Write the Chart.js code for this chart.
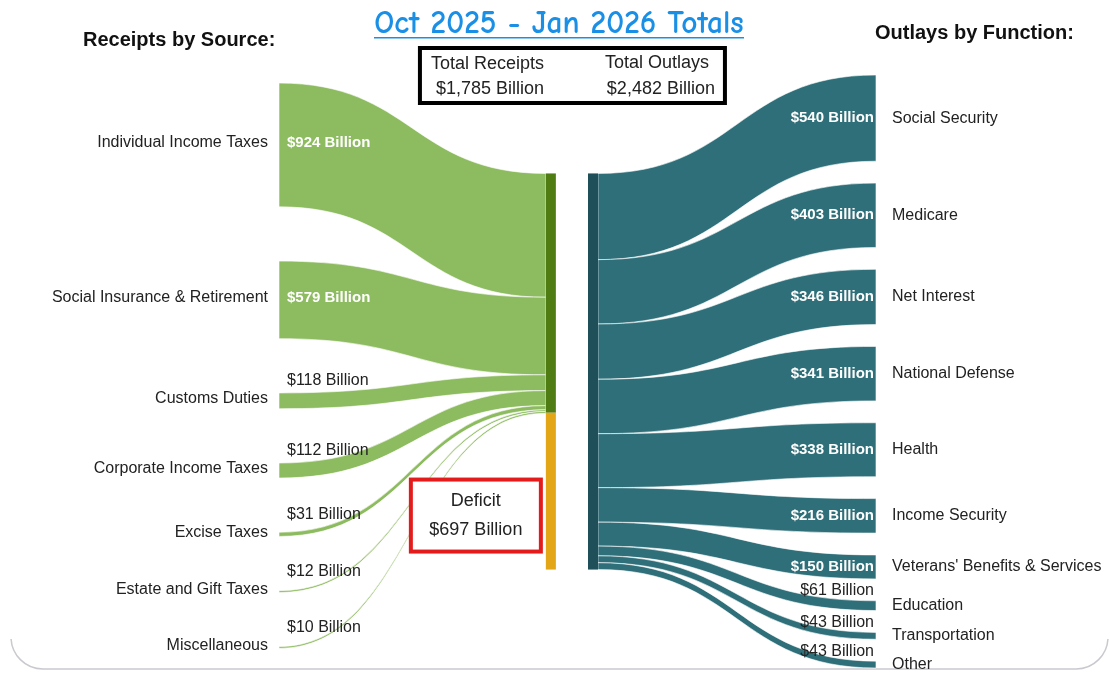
<!DOCTYPE html>
<html>
<head>
<meta charset="utf-8">
<script src="https://cdn.jsdelivr.net/npm/chart.js@4"></script>
<style>
  html, body { margin: 0; padding: 0; background: #fff; }
  canvas { display: block; }
</style>
</head>
<body>
<canvas id="myChart" width="1110" height="673"></canvas>
<script>
// Receipts by source, billions of dollars
var receiptLabels = ['Individual Income Taxes', 'Social Insurance & Retirement', 'Customs Duties',
  'Corporate Income Taxes', 'Excise Taxes', 'Estate and Gift Taxes', 'Miscellaneous'];
var receiptValues = [924, 579, 118, 112, 31, 12, 10];

// Outlays by function, billions of dollars
var outlayLabels = ['Social Security', 'Medicare', 'Net Interest', 'National Defense', 'Health',
  'Income Security', "Veterans' Benefits & Services", 'Education', 'Transportation', 'Other'];
var outlayValues = [540, 403, 346, 341, 338, 216, 150, 61, 43, 43];

// totals as printed on the chart
var totalReceipts = '$1,785 Billion';
var totalOutlays = '$2,482 Billion';
var deficitValue = 697;

var FONT = '"Liberation Sans", Arial, Helvetica, sans-serif';
var GREEN = '#8dbb5f', GREEN_BAR = '#4f7d14', GOLD = '#e3a617';
var TEAL = '#2e6f79', TEAL_BAR = '#1f4f59';
var TEXT = '#222';

// layout, in value units of the y scales
var IN_GAP = 405, IN_PAD = 60, OUT_GAP = 137;
var REC_X = 0.447, OUT_X = 0.5176, NODE_W = 10;

function sum(a) { return a.reduce(function (s, v) { return s + v; }, 0); }
var sumIn = sum(receiptValues);
var sumOut = sum(outlayValues);
var inMax = sumIn + IN_GAP * (receiptValues.length - 1) + 2 * IN_PAD + 90;
var outMax = sumOut + OUT_GAP * (outlayValues.length - 1);

function money(v) { return '$' + v + ' Billion'; }

function flow(ctx, x0, s0, s1, x1, t0, t1) {
  var xm = (x0 + x1) / 2;
  ctx.beginPath();
  ctx.moveTo(x0, s0);
  ctx.bezierCurveTo(xm, s0, xm, t0, x1, t0);
  ctx.lineTo(x1, t1);
  ctx.bezierCurveTo(xm, t1, xm, s1, x0, s1);
  ctx.closePath();
  ctx.fill();
  ctx.stroke();
}

function roundRect(ctx, x, y, w, h, r) {
  ctx.beginPath();
  ctx.moveTo(x + r, y);
  ctx.arcTo(x + w, y, x + w, y + h, r);
  ctx.arcTo(x + w, y + h, x, y + h, r);
  ctx.arcTo(x, y + h, x, y, r);
  ctx.arcTo(x, y, x + w, y, r);
  ctx.closePath();
}

var sankeyPlugin = {
  id: 'sankey',
  beforeDraw: function (chart) {
    // card edge, only its rounded bottom shows
    var ctx = chart.ctx;
    ctx.save();
    ctx.beginPath();
    ctx.rect(0, 639, chart.width, 40);
    ctx.clip();
    roundRect(ctx, 11, -40, 1097, 709, 32);
    ctx.strokeStyle = '#c9c9cf';
    ctx.lineWidth = 1.5;
    ctx.stroke();
    ctx.restore();
  },
  afterDraw: function (chart) {
    var ctx = chart.ctx;
    var x = chart.scales.x, yIn = chart.scales.yIn, yOut = chart.scales.yOut;
    var xL = x.getPixelForValue(0), xR = x.getPixelForValue(1);
    var xRec = x.getPixelForValue(REC_X), xOut = x.getPixelForValue(OUT_X);

    // outlay node in the middle, centred
    var outTop = (outMax - sumOut) / 2;
    var tealY0 = yOut.getPixelForValue(outTop), tealY1 = yOut.getPixelForValue(outTop + sumOut);
    var recTop = yIn.getValueForPixel(tealY0);

    ctx.save();
    ctx.lineWidth = 0.8;
    ctx.strokeStyle = 'rgba(255,255,255,0.75)';

    // receipts flows
    var pos = IN_PAD, cum = recTop, srcNodes = [];
    receiptValues.forEach(function (v) {
      var s0 = yIn.getPixelForValue(pos), s1 = yIn.getPixelForValue(pos + v);
      var t0 = yIn.getPixelForValue(cum), t1 = yIn.getPixelForValue(cum + v);
      if (s1 - s0 < 1.8) { s1 = s0 + 1.8; t1 = t0 + 1.8; }
      ctx.fillStyle = GREEN;
      flow(ctx, xL, s0, s1, xRec, t0, t1);
      srcNodes.push({ y0: s0, y1: s1 });
      pos += v + IN_GAP;
      cum += v;
    });
    var recBottom = yIn.getPixelForValue(recTop + sumIn);

    // outlay flows
    pos = 0; cum = outTop;
    var dstNodes = [];
    outlayValues.forEach(function (v) {
      var s0 = yOut.getPixelForValue(cum), s1 = yOut.getPixelForValue(cum + v);
      var t0 = yOut.getPixelForValue(pos), t1 = yOut.getPixelForValue(pos + v);
      ctx.fillStyle = TEAL;
      flow(ctx, xOut + NODE_W, s0, s1, xR, t0, t1);
      dstNodes.push({ y0: t0, y1: t1 });
      pos += v + OUT_GAP;
      cum += v;
    });

    // middle bars
    ctx.fillStyle = GREEN_BAR;
    ctx.fillRect(xRec, tealY0, NODE_W, recBottom - tealY0);
    ctx.fillStyle = GOLD;
    ctx.fillRect(xRec, recBottom, NODE_W, tealY1 - recBottom);
    ctx.fillStyle = TEAL_BAR;
    ctx.fillRect(xOut, tealY0, NODE_W, tealY1 - tealY0);

    // left labels
    ctx.textBaseline = 'middle';
    srcNodes.forEach(function (n, i) {
      var cy = (n.y0 + n.y1) / 2;
      ctx.textAlign = 'right';
      ctx.fillStyle = TEXT;
      ctx.font = '16px ' + FONT;
      ctx.fillText(receiptLabels[i], xL - 11, cy - 2);
      ctx.textAlign = 'left';
      if (n.y1 - n.y0 >= 20) {
        ctx.fillStyle = '#fff';
        ctx.font = 'bold 15px ' + FONT;
        ctx.fillText(money(receiptValues[i]), xL + 8, cy - 2);
      } else {
        ctx.fillText(money(receiptValues[i]), xL + 8, cy - 20);
      }
    });

    // right labels
    dstNodes.forEach(function (n, i) {
      var cy = (n.y0 + n.y1) / 2;
      ctx.textAlign = 'left';
      ctx.fillStyle = TEXT;
      ctx.font = '16px ' + FONT;
      ctx.fillText(outlayLabels[i], xR + 16, cy);
      ctx.textAlign = 'right';
      if (n.y1 - n.y0 >= 20) {
        ctx.fillStyle = '#fff';
        ctx.font = 'bold 15px ' + FONT;
        ctx.fillText(money(outlayValues[i]), xR - 2, cy);
      } else {
        ctx.fillText(money(outlayValues[i]), xR - 2, n.y0 - 10);
      }
    });

    // deficit box
    var bx1 = xRec - 5, by1 = tealY1 - 18, bw = 130, bh = 72;
    ctx.lineWidth = 4;
    ctx.strokeStyle = '#e41b1b';
    ctx.fillStyle = '#fff';
    ctx.fillRect(bx1 - bw, by1 - bh, bw, bh);
    ctx.strokeRect(bx1 - bw, by1 - bh, bw, bh);
    ctx.fillStyle = TEXT;
    ctx.textAlign = 'center';
    ctx.font = '18px ' + FONT;
    ctx.fillText('Deficit', bx1 - bw / 2, by1 - bh + 21);
    ctx.fillText(money(deficitValue), bx1 - bw / 2, by1 - bh + 50);

    // totals box
    var cx = (xRec + xOut + NODE_W) / 2;
    var tx0 = cx - 152, ty0 = 48, tw = 305, th = 55;
    ctx.strokeStyle = '#000';
    ctx.fillStyle = '#fff';
    ctx.fillRect(tx0, ty0, tw, th);
    ctx.strokeRect(tx0, ty0, tw, th);
    ctx.fillStyle = TEXT;
    ctx.font = '18px ' + FONT;
    ctx.textAlign = 'left';
    ctx.fillText('Total Receipts', tx0 + 11, 64);
    ctx.fillText(totalReceipts, tx0 + 16, 89);
    ctx.textAlign = 'right';
    ctx.fillText('Total Outlays', tx0 + tw - 16, 63);
    ctx.fillText(totalOutlays, tx0 + tw - 10, 89);

    // headers
    ctx.textAlign = 'left';
    ctx.fillStyle = '#111';
    ctx.font = 'bold 20px ' + FONT;
    ctx.fillText('Receipts by Source:', 83, 40);
    ctx.fillText('Outlays by Function:', 875, 33);

    // title
    var title = 'Oct 2025 - Jan 2026 Totals';
    var fam = '"Comic Sans MS", "Comic Neue", cursive';
    ctx.font = 'bold 24px ' + fam;
    var size = 24 * 370 / ctx.measureText(title).width;
    ctx.font = 'bold ' + size.toFixed(1) + 'px ' + fam;
    ctx.fillStyle = '#1a8fe6';
    ctx.textAlign = 'center';
    ctx.textBaseline = 'alphabetic';
    ctx.fillText(title, 559, 33);
    ctx.fillRect(374, 37, 370, 1.5);
    ctx.restore();
  }
};

var ctx = document.getElementById('myChart').getContext('2d');
var chart = new Chart(ctx, {
  type: 'scatter',
  data: { datasets: [] },
  options: {
    responsive: false,
    animation: false,
    devicePixelRatio: 1,
    layout: { padding: { left: 279, right: 234, top: 75, bottom: 5 } },
    plugins: { legend: { display: false }, tooltip: { enabled: false } },
    scales: {
      x: { type: 'linear', min: 0, max: 1, display: false },
      y: { type: 'linear', display: false },
      yIn: { type: 'linear', min: 0, max: inMax, reverse: true, display: false },
      yOut: { type: 'linear', min: 0, max: outMax, reverse: true, display: false }
    }
  },
  plugins: [sankeyPlugin]
});
</script>
</body>
</html>
